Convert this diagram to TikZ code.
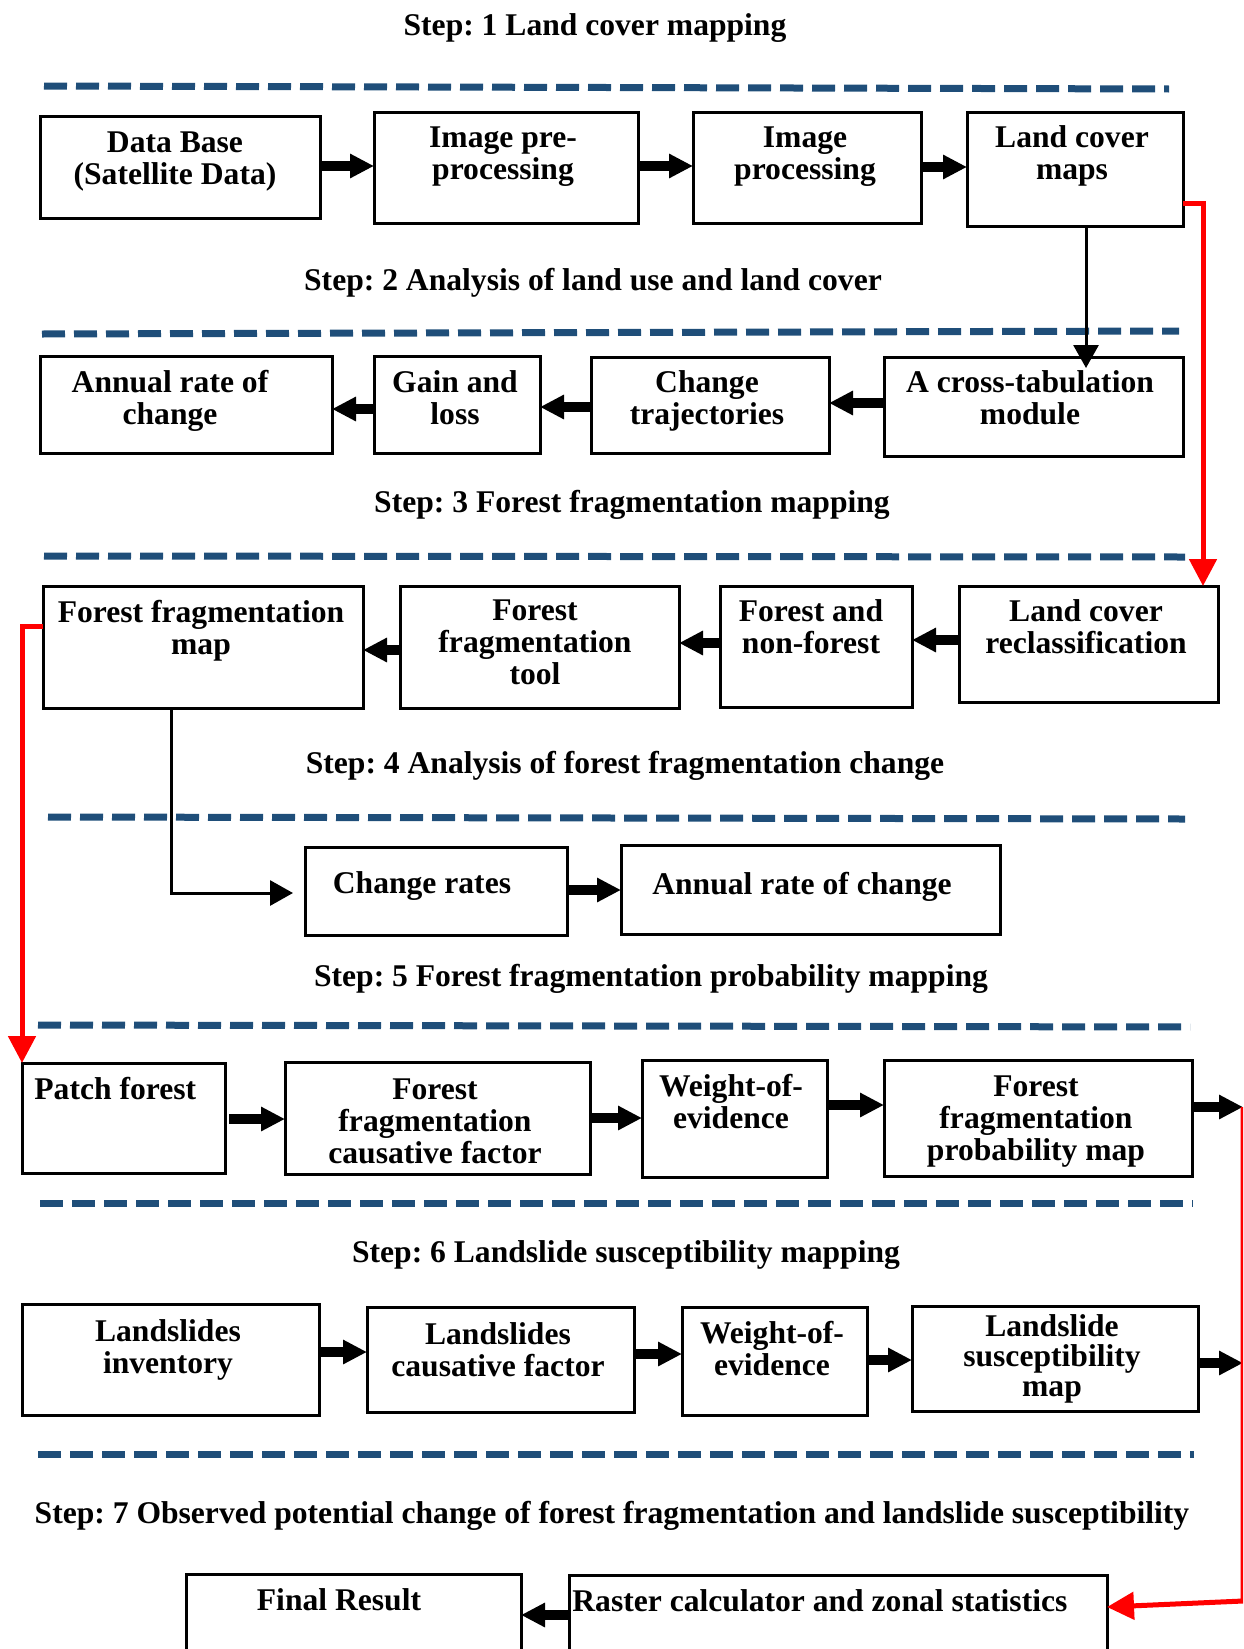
\documentclass[tikz,border=0pt]{standalone}
\usepackage{fontspec}
\setmainfont{Liberation Serif}
\usetikzlibrary{arrows.meta}
\definecolor{dashblue}{RGB}{31,78,121}
\frenchspacing
\newcommand\dgfont{\fontsize{15.8}{16}\selectfont\bfseries}
\newcommand\tup{\rule{0pt}{11.5pt}}
% box node: name, x1, y1, x2, y2 (pixels, y downward)
\newcommand\bx[5]{\node[box, minimum width={(#4-#2)*0.5pt}, minimum height={(#5-#3)*0.5pt}] (#1) at ({(#2+#4)/2},{(#3+#5)/2}) {};}
% centred text: name, centre x, first baseline, text
\newcommand\tx[4]{\node[lbl] (#1) at (#2,{#3-23}) {\tup #4};}
\begin{document}
\begin{tikzpicture}[x=0.5pt,y=-0.5pt,
  box/.style={draw, line width=1.5pt, inner sep=0pt, outer sep=0pt},
  lbl/.style={font=\dgfont, align=center, inner sep=0pt, anchor=north},
  lbll/.style={font=\dgfont, align=left, inner sep=0pt, anchor=north west},
  ttl/.style={font=\dgfont, inner sep=0pt, anchor=base},
  arr/.style={line width=5pt, -{Triangle[length=12pt,width=11.5pt]}},
  lnarr/.style={line width=1.5pt, -{Triangle[length=11.5pt,width=12.5pt]}},
  redarr/.style={red, line width=2.5pt, -{Triangle[length=13.5pt,width=13.5pt]}},
  divider/.style={dashblue, line width=3.5pt, dash pattern=on 11.5pt off 4.5pt},
]
\useasboundingbox (0,0) rectangle (1243,1649);
\clip (0,0) rectangle (1243,1649);

% ---- titles
\node[ttl] (t1) at (595,35)   {Step: 1 Land cover mapping};
\node[ttl] (t2) at (593,290)  {Step: 2 Analysis of land use and land cover};
\node[ttl] (t3) at (632,512)  {Step: 3 Forest fragmentation mapping};
\node[ttl] (t4) at (625,773)  {Step: 4 Analysis of forest fragmentation change};
\node[ttl] (t5) at (651,986)  {Step: 5 Forest fragmentation probability mapping};
\node[ttl] (t6) at (626,1262) {Step: 6 Landslide susceptibility mapping};
\node[ttl] (t7) at (612,1523) {Step: 7 Observed potential change of forest fragmentation and landslide susceptibility};

% ---- dividers
\draw[divider] (44,86) -- (1169,89);
\draw[divider] (42,334) -- (1179,331);
\draw[divider] (44,556) -- (1185,557);
\draw[divider] (48,817) -- (1185,819);
\draw[divider] (38,1025) -- (1190,1027);
\draw[divider] (40,1203) -- (1193,1203);
\draw[divider] (38,1454) -- (1194,1454);

% ---- boxes
\bx{db}{40}{116}{320}{218}
\bx{pre}{374}{112}{638}{223}
\bx{imgp}{693}{112}{921}{223}
\bx{lcm}{967}{112}{1183}{226}
\bx{ann1}{40}{356}{332}{453}
\bx{gain}{374}{356}{540}{453}
\bx{traj}{591}{357}{829}{453}
\bx{ctab}{884}{357}{1183}{456}
\bx{ffmap}{43}{586}{363}{708}
\bx{tool}{400}{586}{679}{708}
\bx{fnf}{720}{586}{912}{707}
\bx{lcr}{959}{586}{1218}{702}
\bx{cr}{305}{847}{567}{935}
\bx{ann2}{621}{845}{1000}{934}
\bx{patch}{22}{1063}{225}{1173}
\bx{ffcf}{285}{1062}{590}{1174}
\bx{woe1}{642}{1060}{827}{1177}
\bx{ffpm}{884}{1060}{1192}{1176}
\bx{li}{22}{1304}{319}{1415}
\bx{lcf}{367}{1307}{634}{1412}
\bx{woe2}{682}{1307}{867}{1415}
\bx{lsm}{912}{1306}{1198}{1411}
\bx{final}{186}{1574}{521}{1700}
\bx{raster}{569}{1575}{1107}{1700}

% ---- texts
\tx{tdb}{175}{152}{Data Base\\(Satellite Data)}
\tx{tpre}{503}{147}{Image pre-\\processing}
\tx{timgp}{805}{147}{Image\\processing}
\tx{tlcm}{1072}{147}{Land cover\\maps}
\tx{tann1}{170}{392}{Annual rate of\\change}
\tx{tgain}{455}{392}{Gain and\\loss}
\tx{ttraj}{707}{392}{Change\\trajectories}
\tx{tctab}{1030}{392}{A cross-tabulation\\module}
\tx{tffmap}{201}{622}{Forest fragmentation\\map}
\tx{ttool}{535}{620}{Forest\\fragmentation\\tool}
\tx{tfnf}{811}{621}{Forest and\\non-forest}
\tx{tlcr}{1086}{621}{Land cover\\reclassification}
\tx{tcr}{422}{893}{Change rates}
\tx{tann2}{802}{894}{Annual rate of change}
\node[lbll] (tpatch) at (34,1076) {\tup Patch forest};
\tx{tffcf}{435}{1099}{Forest\\fragmentation\\causative factor}
\tx{twoe1}{731}{1096}{Weight-of-\\evidence}
\tx{tffpm}{1036}{1096}{Forest\\fragmentation\\probability map}
\tx{tli}{168}{1341}{Landslides\\inventory}
\tx{tlcf}{498}{1344}{Landslides\\causative factor}
\tx{twoe2}{772}{1343}{Weight-of-\\evidence}
\tx{tlsm}{1052}{1336}{Landslide\\[-1pt]susceptibility\\[-1pt]map}
\tx{tfinal}{339}{1610}{Final Result}
\node[lbll] (traster) at (572,1588) {\tup Raster calculator and zonal statistics};

% ---- free ends
\coordinate (e1) at (1243,1107);
\coordinate (e2) at (1243,1363);
\coordinate (rc) at (1243,1601);

% ---- black arrows
\draw[arr] (db.east |- 0,166) -- (pre.west |- 0,166);
\draw[arr] (pre.east |- 0,166) -- (imgp.west |- 0,166);
\draw[arr] (imgp.east |- 0,167) -- (lcm.west |- 0,167);
\draw[arr] (ctab.west |- 0,403) -- (traj.east |- 0,403);
\draw[arr] (traj.west |- 0,407) -- (gain.east |- 0,407);
\draw[arr] (gain.west |- 0,409) -- (ann1.east |- 0,409);
\draw[arr] (lcr.west |- 0,640) -- (fnf.east |- 0,640);
\draw[arr] (fnf.west |- 0,643) -- (tool.east |- 0,643);
\draw[arr] (tool.west |- 0,650) -- (ffmap.east |- 0,650);
\draw[arr] (cr.east |- 0,890) -- (ann2.west |- 0,890);
\draw[arr, shorten <=2pt] (patch.east |- 0,1119) -- (ffcf.west |- 0,1119);
\draw[arr] (ffcf.east |- 0,1118) -- (woe1.west |- 0,1118);
\draw[arr] (woe1.east |- 0,1105) -- (ffpm.west |- 0,1105);
\draw[arr] (ffpm.east |- 0,1107) -- (e1);
\draw[arr] (li.east |- 0,1352) -- (lcf.west |- 0,1352);
\draw[arr] (lcf.east |- 0,1354) -- (woe2.west |- 0,1354);
\draw[arr] (woe2.east |- 0,1360) -- (lsm.west |- 0,1360);
\draw[arr] (lsm.east |- 0,1363) -- (e2);
\draw[arr] (raster.west |- 0,1615) -- (final.east |- 0,1615);

% ---- thin black connectors
\draw[lnarr, shorten >=-5.5pt] (lcm.south -| 1086,0) -- (ctab.north -| 1086,0);
\draw[lnarr, shorten >=6pt] (ffmap.south -| 171,0) |- (cr.west |- 0,893);

% ---- red connectors
\draw[redarr] (lcm.east |- 0,203) -- (1203,203) -- (lcr.north -| 1203,0);
\draw[redarr] (ffmap.west |- 0,626) -| (patch.north west);
\draw[redarr] (e1) -- (rc) -- (raster.east |- 0,1607);
\end{tikzpicture}
\end{document}
